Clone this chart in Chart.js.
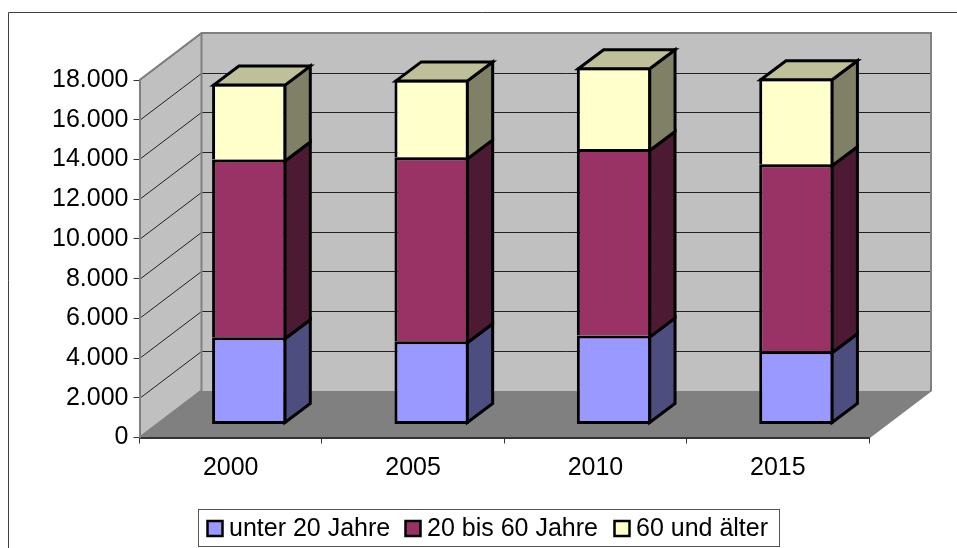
<!DOCTYPE html>
<html>
<head>
<meta charset="utf-8">
<style>
  html, body { margin: 0; padding: 0; background: #fff; overflow: hidden; }
  canvas { display: block; }
</style>
<script src="https://cdn.jsdelivr.net/npm/chart.js@4/dist/chart.umd.min.js"></script>
</head>
<body>
<canvas id="chart" width="957" height="548"></canvas>
<script>
const years = ['2000', '2005', '2010', '2015'];
const seriesNames = ['unter 20 Jahre', '20 bis 60 Jahre', '60 und älter'];
const under20 = [4395, 4195, 4475, 3690];
const from20to60 = [8945, 9255, 9400, 9415];
const over60 = [3825, 3925, 4115, 4330];

const frontColors = ['#9999FF', '#993366', '#FFFFCC'];
const sideColors = ['#4D4D80', '#4D1A33', '#808066'];
const topColor = '#BFBF99';

const FONT = '"Liberation Sans", Arial, sans-serif';
const FONT_SIZE = 25;
const WALL_DX = 62, WALL_DY = -47;   // depth of the whole 3d box
const BAR_X = 18.6, BAR_Y = -13;     // bars stand a bit behind the front plane
const BAR_DX = 25.3, BAR_DY = -19;   // depth of a bar
const EDGE = 3;                      // black outline of the bars

function poly(ctx, pts, fill, stroke, lw) {
    ctx.beginPath();
    pts.forEach((p, i) => i ? ctx.lineTo(p[0], p[1]) : ctx.moveTo(p[0], p[1]));
    ctx.closePath();
    if (fill) { ctx.fillStyle = fill; ctx.fill(); }
    if (stroke) { ctx.strokeStyle = stroke; ctx.lineWidth = lw; ctx.lineJoin = 'miter'; ctx.stroke(); }
}

const box3d = {
    id: 'box3d',
    beforeDraw(chart) {
        const ctx = chart.ctx;
        const { left, right, top, bottom } = chart.chartArea;

        // outer frame, cut off by the picture on the right and at the bottom
        ctx.save();
        ctx.strokeStyle = '#404040';
        ctx.lineWidth = 1;
        ctx.beginPath();
        ctx.moveTo(8.5, 548);
        ctx.lineTo(8.5, 12.5);
        ctx.lineTo(957, 12.5);
        ctx.stroke();

        // floor
        poly(ctx, [[left, bottom], [left + WALL_DX, bottom + WALL_DY],
            [right + WALL_DX, bottom + WALL_DY], [right, bottom]], '#808080');
        // side wall and back wall
        poly(ctx, [[left, top], [left + WALL_DX, top + WALL_DY],
            [left + WALL_DX, bottom + WALL_DY], [left, bottom]], '#C0C0C0');
        poly(ctx, [[left + WALL_DX, top + WALL_DY], [right + WALL_DX, top + WALL_DY],
            [right + WALL_DX, bottom + WALL_DY], [left + WALL_DX, bottom + WALL_DY]], '#C0C0C0');

        // gridlines run over the side wall and then along the back wall
        const y = chart.scales.y;
        ctx.strokeStyle = '#222';
        ctx.lineWidth = 1;
        y.ticks.forEach(t => {
            if (t.value === 0) return;
            const py = Math.round(y.getPixelForValue(t.value)) + 0.5;
            ctx.beginPath();
            ctx.moveTo(left, py);
            ctx.lineTo(left + WALL_DX, py + WALL_DY);
            ctx.lineTo(right + WALL_DX, py + WALL_DY);
            ctx.stroke();
        });

        // wall outlines
        ctx.strokeStyle = '#808080';
        ctx.lineWidth = 2;
        ctx.beginPath();
        ctx.moveTo(left, top);
        ctx.lineTo(left + WALL_DX, top + WALL_DY);
        ctx.lineTo(right + WALL_DX, top + WALL_DY);
        ctx.lineTo(right + WALL_DX, bottom + WALL_DY);
        ctx.lineTo(right, bottom);
        ctx.moveTo(left + WALL_DX, top + WALL_DY);
        ctx.lineTo(left + WALL_DX, bottom + WALL_DY);
        ctx.lineTo(left, bottom);
        ctx.stroke();
        ctx.restore();
    },
    beforeDatasetsDraw(chart) {
        chart.ctx.save();
        chart.ctx.translate(BAR_X, BAR_Y);
    },
    afterDatasetsDraw(chart) {
        const ctx = chart.ctx;
        const last = chart.data.datasets.length - 1;
        const inset = EDGE / 2;
        chart.data.datasets.forEach((ds, d) => {
            chart.getDatasetMeta(d).data.forEach(bar => {
                const half = bar.width / 2 - inset;
                const r = bar.x + half, l = bar.x - half;
                const t = bar.y + inset;
                const b = d === 0 ? bar.base - inset : bar.base + inset;
                poly(ctx, [[r, t], [r + BAR_DX, t + BAR_DY], [r + BAR_DX, b + BAR_DY], [r, b]],
                    sideColors[d], '#000', EDGE);
                if (d === last) {
                    poly(ctx, [[l, t], [l + BAR_DX, t + BAR_DY], [r + BAR_DX, t + BAR_DY], [r, t]],
                        topColor, '#000', EDGE);
                }
            });
        });
        ctx.restore();
    },
    afterDraw(chart) {
        // legend box along the bottom edge
        const ctx = chart.ctx;
        ctx.save();
        ctx.fillStyle = '#fff';
        ctx.fillRect(198.5, 509.5, 581, 37);
        ctx.strokeStyle = '#555';
        ctx.lineWidth = 1;
        ctx.strokeRect(198.5, 509.5, 581, 37);
        ctx.font = FONT_SIZE + 'px ' + FONT;
        ctx.textBaseline = 'middle';
        [207.5, 405.5, 614.5].forEach((x, i) => {
            ctx.fillStyle = frontColors[i];
            ctx.strokeStyle = '#000';
            ctx.lineWidth = 2.5;
            ctx.fillRect(x, 521, 15, 15);
            ctx.strokeRect(x, 521, 15, 15);
            ctx.fillStyle = '#000';
            ctx.fillText(seriesNames[i], x + 21.5, 529);
        });
        ctx.restore();
    }
};

new Chart(document.getElementById('chart'), {
    type: 'bar',
    data: {
        labels: years,
        datasets: [under20, from20to60, over60].map((values, i) => ({
            label: seriesNames[i],
            data: values,
            backgroundColor: frontColors[i],
            borderColor: '#000',
            borderWidth: EDGE,
            borderSkipped: i === 0 ? false : 'bottom',
            categoryPercentage: 1,
            barPercentage: 0.408
        }))
    },
    options: {
        responsive: false,
        animation: false,
        layout: { padding: { left: 0, right: 88, top: 80, bottom: 0 } },
        plugins: { legend: { display: false }, title: { display: false }, tooltip: { enabled: false } },
        scales: {
            x: {
                stacked: true,
                afterFit: s => { s.height = 110.5; },
                border: { color: '#333', width: 2 },
                grid: { drawOnChartArea: false, color: '#333', tickLength: 6, offset: true },
                ticks: { color: '#000', font: { family: FONT, size: FONT_SIZE }, padding: 10, maxRotation: 0 }
            },
            y: {
                stacked: true,
                min: 0,
                max: 18000,
                afterFit: s => { s.width = 139.5; },
                border: { color: '#808080', width: 2 },
                grid: { drawOnChartArea: false, color: '#333', tickLength: 6 },
                ticks: {
                    stepSize: 2000,
                    color: '#000',
                    font: { family: FONT, size: FONT_SIZE },
                    padding: 5,
                    callback: v => v.toLocaleString('de-DE')
                }
            }
        }
    },
    plugins: [box3d]
});
</script>
</body>
</html>
